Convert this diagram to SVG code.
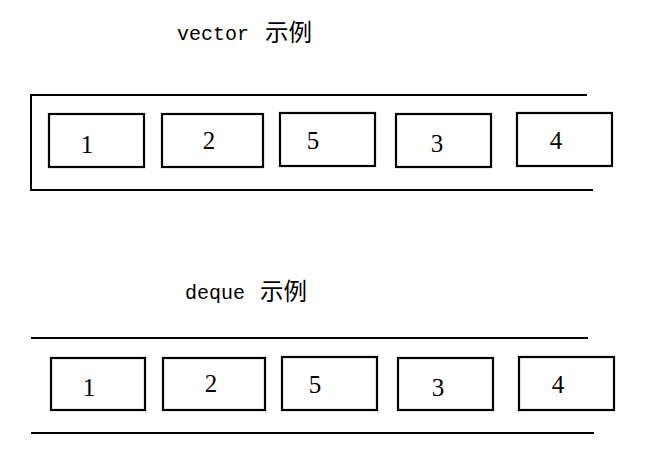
<svg xmlns="http://www.w3.org/2000/svg" width="652" height="455" viewBox="0 0 652 455">
<style>
.box{fill:#fff;stroke:#000;stroke-width:2.2}
.ln{fill:none;stroke:#000;stroke-width:2}
.num{font-family:"Liberation Serif",serif;font-size:25px;fill:#000;text-anchor:middle}
.ttl{font-family:"Liberation Mono",monospace;font-size:20px;fill:#000}
.cjk{font-family:"Noto Sans CJK SC",sans-serif;font-size:23.5px;fill:#000}
</style>
<rect width="652" height="455" fill="#fff"/>
<g id="title-vector">
<text class="ttl" x="177" y="40">vector</text>
<text class="cjk" x="265" y="41">示例</text>
</g>
<g id="title-deque">
<text class="ttl" x="185" y="299">deque</text>
<text class="cjk" x="260" y="300">示例</text>
</g>
<g id="connectors">
<path class="ln" d="M587,95 H31 V190 H588"/>
<path class="ln" d="M588,190 H593" stroke-width="1"/>
<path class="ln" d="M31,338 H588"/>
<path class="ln" d="M31,433 H589"/>
<path class="ln" d="M589,433 H594" stroke-width="1"/>
</g>
<g id="v1"><rect class="box" x="49" y="114" width="95" height="53"/><text class="num" x="87" y="153">1</text></g>
<g id="v2"><rect class="box" x="162" y="114" width="101" height="53"/><text class="num" x="209" y="149">2</text></g>
<g id="v5"><rect class="box" x="280" y="113" width="95" height="53"/><text class="num" x="313" y="149">5</text></g>
<g id="v3"><rect class="box" x="396" y="114" width="95" height="53"/><text class="num" x="437" y="152">3</text></g>
<g id="v4"><rect class="box" x="517" y="113" width="95" height="53"/><text class="num" x="556" y="149">4</text></g>
<g id="d1"><rect class="box" x="51" y="358" width="94" height="52"/><text class="num" x="89" y="396">1</text></g>
<g id="d2"><rect class="box" x="163" y="358" width="102" height="52"/><text class="num" x="211" y="392">2</text></g>
<g id="d5"><rect class="box" x="282" y="357" width="95" height="53"/><text class="num" x="315" y="393">5</text></g>
<g id="d3"><rect class="box" x="398" y="358" width="95" height="52"/><text class="num" x="438" y="396">3</text></g>
<g id="d4"><rect class="box" x="519" y="357" width="95" height="53"/><text class="num" x="558" y="393">4</text></g>
</svg>
